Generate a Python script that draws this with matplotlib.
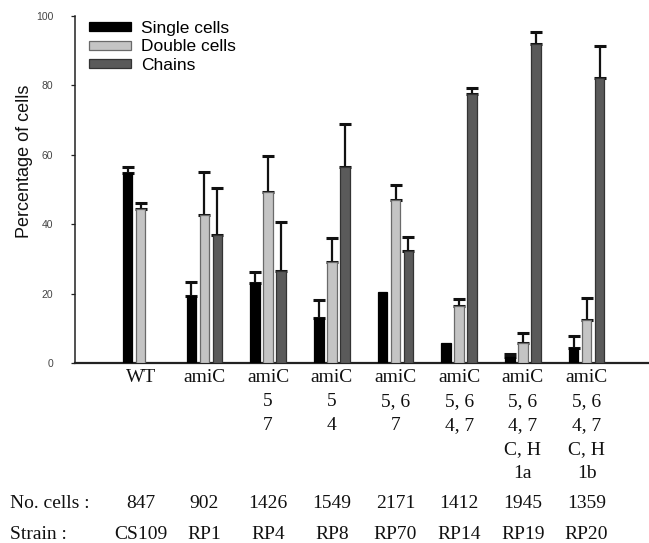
import numpy as np
import matplotlib
matplotlib.use("Agg")
import matplotlib.pyplot as plt
from matplotlib.transforms import blended_transform_factory

nan = np.nan

# ---- data ----
genotypes = [["WT"], ["amiC"], ["amiC", "5", "7"], ["amiC", "5", "4"],
             ["amiC", "5, 6", "7"], ["amiC", "5, 6", "4, 7"],
             ["amiC", "5, 6", "4, 7", "C, H", "1a"],
             ["amiC", "5, 6", "4, 7", "C, H", "1b"]]
n_cells = ["847", "902", "1426", "1549", "2171", "1412", "1945", "1359"]
strains = ["CS109", "RP1", "RP4", "RP8", "RP70", "RP14", "RP19", "RP20"]

single = [54.8, 19.5, 23.0, 13.1, 20.6, 5.9, 1.9, 4.5]
single_err = [1.6, 3.8, 3.4, 5.1, nan, nan, 0.7, 3.4]
double = [44.3, 42.7, 49.4, 29.2, 47.0, 16.6, 5.7, 12.5]
double_err = [1.7, 12.4, 10.3, 6.8, 4.3, 1.9, 3.1, 6.2]
chains = [nan, 36.9, 26.6, 56.6, 32.3, 77.4, 91.8, 82.2]
chains_err = [nan, 13.4, 14.0, 12.2, 3.9, 1.9, 3.4, 9.2]

series = [("Single cells", single, single_err, "#000000", "#000000"),
          ("Double cells", double, double_err, "#c4c4c4", "#6a6a6a"),
          ("Chains", chains, chains_err, "#5a5a5a", "#333333")]

W, H = 649, 543
fig = plt.figure(figsize=(W / 100, H / 100), dpi=100)
ax_left, ax_right, ax_bottom, ax_top = 75, 648, 363.3, 15.7
ax = fig.add_axes([ax_left / W, 1 - ax_bottom / H,
                   (ax_right - ax_left) / W, (ax_bottom - ax_top) / H])

x = np.arange(len(strains))
offsets = [-0.204, 0.0, 0.204]
width = 0.149

for (name, vals, errs, fc, ec), off in zip(series, offsets):
    vals = np.array(vals, dtype=float)
    errs = np.array(errs, dtype=float)
    m = np.isfinite(vals)
    ax.bar(x[m] + off, vals[m], width=width, color=fc, edgecolor=ec,
           linewidth=0.9, label=name, zorder=3)
    me = m & np.isfinite(errs)
    ax.errorbar(x[me] + off, vals[me],
                yerr=[np.zeros(me.sum()), errs[me]],
                fmt="none", ecolor="#111111", elinewidth=1.6,
                capsize=4, capthick=2.2, zorder=2)

ax.set_ylim(0, 100)
ax.set_xlim((ax_left - 140.7) / 63.7, (ax_right - 140.7) / 63.7)
ax.set_yticks([0, 20, 40, 60, 80, 100])
ax.set_xticks([])
for s in ["top", "right"]:
    ax.spines[s].set_visible(False)
ax.spines["left"].set_linewidth(1.1)
ax.spines["left"].set_color("#222222")
ax.spines["bottom"].set_linewidth(1.6)
ax.spines["bottom"].set_color("#222222")
ax.tick_params(axis="y", length=3, width=0.9, pad=12.5, labelsize=7.5,
               labelcolor="#444444", color="#222222")
for lab in ax.get_yticklabels():
    lab.set_fontfamily("Liberation Sans")

fig.text(25 / W, 1 - 161 / H, "Percentage of cells", rotation=90,
         ha="center", va="center", fontsize=13, family="Liberation Sans",
         color="#111111")

leg = ax.legend(loc="upper left", bbox_to_anchor=(89 / W, 1 - 21 / H),
                bbox_transform=fig.transFigure, frameon=False,
                borderpad=0, borderaxespad=0, handlelength=2.4,
                handleheight=0.45, handletextpad=0.6, labelspacing=0.2,
                prop={"family": "Liberation Sans", "size": 12.5})

# ---- category annotations under the axis ----
trans = blended_transform_factory(ax.transData, fig.transFigure)
serif = {"family": "Liberation Serif", "size": 14, "color": "#111111"}
line_base = [382, 406, 430, 454, 478]
for xi, lines in zip(x, genotypes):
    for k, t in enumerate(lines):
        ax.text(xi, 1 - line_base[k] / H, t, transform=trans, ha="center",
                va="baseline", **serif)
for xi, t in zip(x, n_cells):
    ax.text(xi, 1 - 508 / H, t, transform=trans, ha="center",
            va="baseline", **serif)
for xi, t in zip(x, strains):
    ax.text(xi, 1 - 539 / H, t, transform=trans, ha="center",
            va="baseline", **serif)
fig.text(10 / W, 1 - 508 / H, "No. cells :", ha="left", va="baseline", **serif)
fig.text(10 / W, 1 - 539 / H, "Strain :", ha="left", va="baseline", **serif)

fig.savefig("out.png", dpi=100)
